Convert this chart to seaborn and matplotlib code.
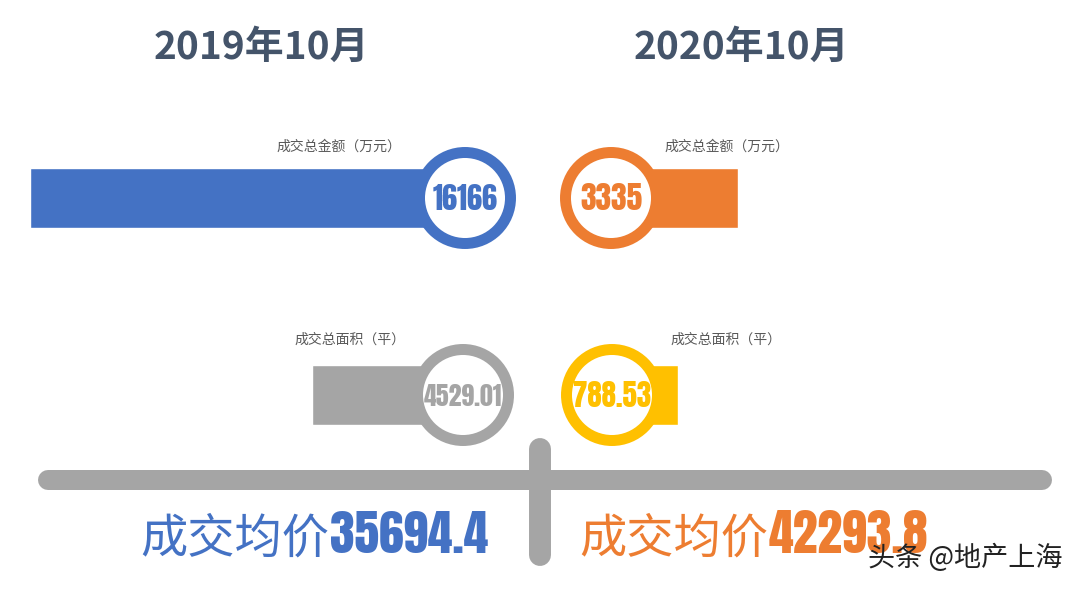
import matplotlib
matplotlib.use("Agg")
import matplotlib.pyplot as plt
from matplotlib import font_manager
from matplotlib.font_manager import FontProperties
from matplotlib.patches import Circle
from matplotlib.lines import Line2D
import seaborn as sns

# ---------------- data ----------------
periods = ["2019年10月", "2020年10月"]
amount = [16166, 3335]            # 成交总金额（万元）
area = [4529.01, 788.53]          # 成交总面积（平）
avg_price = [35694.4, 42293.8]    # 成交均价
amount_label = "成交总金额（万元）"
area_label = "成交总面积（平）"
price_label = "成交均价"
amount_text = ["16166", "3335"]
area_text = ["4529.01", "788.53"]
price_text = ["35694.4", "42293.8"]
watermark = "头条 @地产上海"

BLUE, ORANGE, GREY, YELLOW = "#4472C4", "#ED7D31", "#A5A5A5", "#FFC000"
TITLE_C = "#44546A"

sns.set_theme(style="white")
plt.rcParams["font.family"] = ["Noto Sans CJK SC", "DejaVu Sans"]


def pick_condensed():
    files = [f.fname for f in font_manager.fontManager.ttflist]
    prefs = ["anton-regular", "bebasneue", "leaguegothic", "oswald-bold", "oswald[",
             "oswald", "fjallaone", "pathwaygothic", "robotocondensed-bold",
             "firasansextracondensed-bold", "firasansextracondensed-black"]
    for p in prefs:
        for fn in files:
            base = fn.lower().replace("\\", "/").split("/")[-1]
            if base.startswith(p) and "italic" not in base:
                return fn
    for fn in files:
        b = fn.lower()
        if ("condensed" in b or "narrow" in b) and "italic" not in b:
            return fn
    return None


cf = pick_condensed()


def NUM(size):
    if cf is not None:
        return FontProperties(fname=cf, size=size)
    return FontProperties(family="DejaVu Sans", weight="bold", size=size)


W, H = 1080, 589
fig = plt.figure(figsize=(W / 100, H / 100), dpi=100)
fig.patch.set_facecolor("white")


def px_axes(x0, x1, y0, y1, z=0):
    return fig.add_axes([x0 / W, 1 - y1 / H, (x1 - x0) / W, (y1 - y0) / H], zorder=z)


def bar(value, x0, x1, y0, y1, color, leftward):
    bax = px_axes(x0, x1, y0, y1, z=0)
    sns.barplot(x=[value], y=[""], orient="h", color=color, width=1.0,
                saturation=1, errorbar=None, ax=bax)
    if leftward:
        bax.set_xlim(value, 0)
    else:
        bax.set_xlim(0, value)
    bax.set_ylim(0.5, -0.5)
    bax.axis("off")


bar(amount[0], 30, 465, 168, 228, BLUE, True)
bar(amount[1], 611, 738, 168, 228, ORANGE, False)
bar(area[0], 312, 463, 365, 425, GREY, True)
bar(area[1], 612, 678, 365, 425, YELLOW, False)

ax = fig.add_axes([0, 0, 1, 1], zorder=1)
ax.set_xlim(0, W)
ax.set_ylim(H, 0)
ax.patch.set_visible(False)
ax.axis("off")

renderer = fig.canvas.get_renderer()


def fit_text(x, y, s, target_w, color, max_h=None, **kw):
    t = ax.text(x, y, s, color=color, fontproperties=NUM(30), **kw)
    bb = t.get_window_extent(renderer)
    size = 30 * target_w / bb.width
    t.set_fontproperties(NUM(size))
    if max_h is not None:
        bb = t.get_window_extent(renderer)
        if bb.height > max_h:
            t.set_fontproperties(NUM(size * max_h / bb.height))
    return t


ax.text(261, 47, periods[0], ha="center", va="center", fontsize=28,
        fontweight="bold", color=TITLE_C)
ax.text(741, 47, periods[1], ha="center", va="center", fontsize=28,
        fontweight="bold", color=TITLE_C)

ax.text(339, 147, amount_label, ha="center", va="center", fontsize=10, color="#595959")
ax.text(727, 147, amount_label, ha="center", va="center", fontsize=10, color="#595959")
ax.text(350, 340, area_label, ha="center", va="center", fontsize=10, color="#595959")
ax.text(726, 340, area_label, ha="center", va="center", fontsize=10, color="#595959")

for (cx, cy, c) in [(465, 198, BLUE), (611, 198, ORANGE), (463, 395, GREY), (612, 395, YELLOW)]:
    ax.add_patch(Circle((cx, cy), 45.5, facecolor="white", edgecolor=c, linewidth=7.9, zorder=3))

fit_text(465, 199, amount_text[0], 65, BLUE, max_h=40, ha="center", va="center", zorder=4)
fit_text(611, 199, amount_text[1], 62, ORANGE, max_h=40, ha="center", va="center", zorder=4)
fit_text(463, 396, area_text[0], 78, GREY, max_h=40, ha="center", va="center", zorder=4)
fit_text(612, 396, area_text[1], 78, YELLOW, max_h=40, ha="center", va="center", zorder=4)

ax.add_line(Line2D([48, 1042], [480, 480], color=GREY, linewidth=14.4,
                   solid_capstyle="round", zorder=2))
ax.add_line(Line2D([540, 540], [449, 555], color=GREY, linewidth=15.8,
                   solid_capstyle="round", zorder=2))

ax.text(329, 553, price_label, ha="right", va="baseline", fontsize=34,
        fontweight="light", color=BLUE)
fit_text(330, 553, price_text[0], 158, BLUE, max_h=50, ha="left", va="baseline")
ax.text(768, 553, price_label, ha="right", va="baseline", fontsize=34,
        fontweight="light", color=ORANGE)
fit_text(769, 553, price_text[1], 159, ORANGE, max_h=50, ha="left", va="baseline")

ax.text(1063, 558, watermark, ha="right", va="center", fontsize=19.5, color="#222222", zorder=5)

fig.savefig("out.png", dpi=100, facecolor="white")
